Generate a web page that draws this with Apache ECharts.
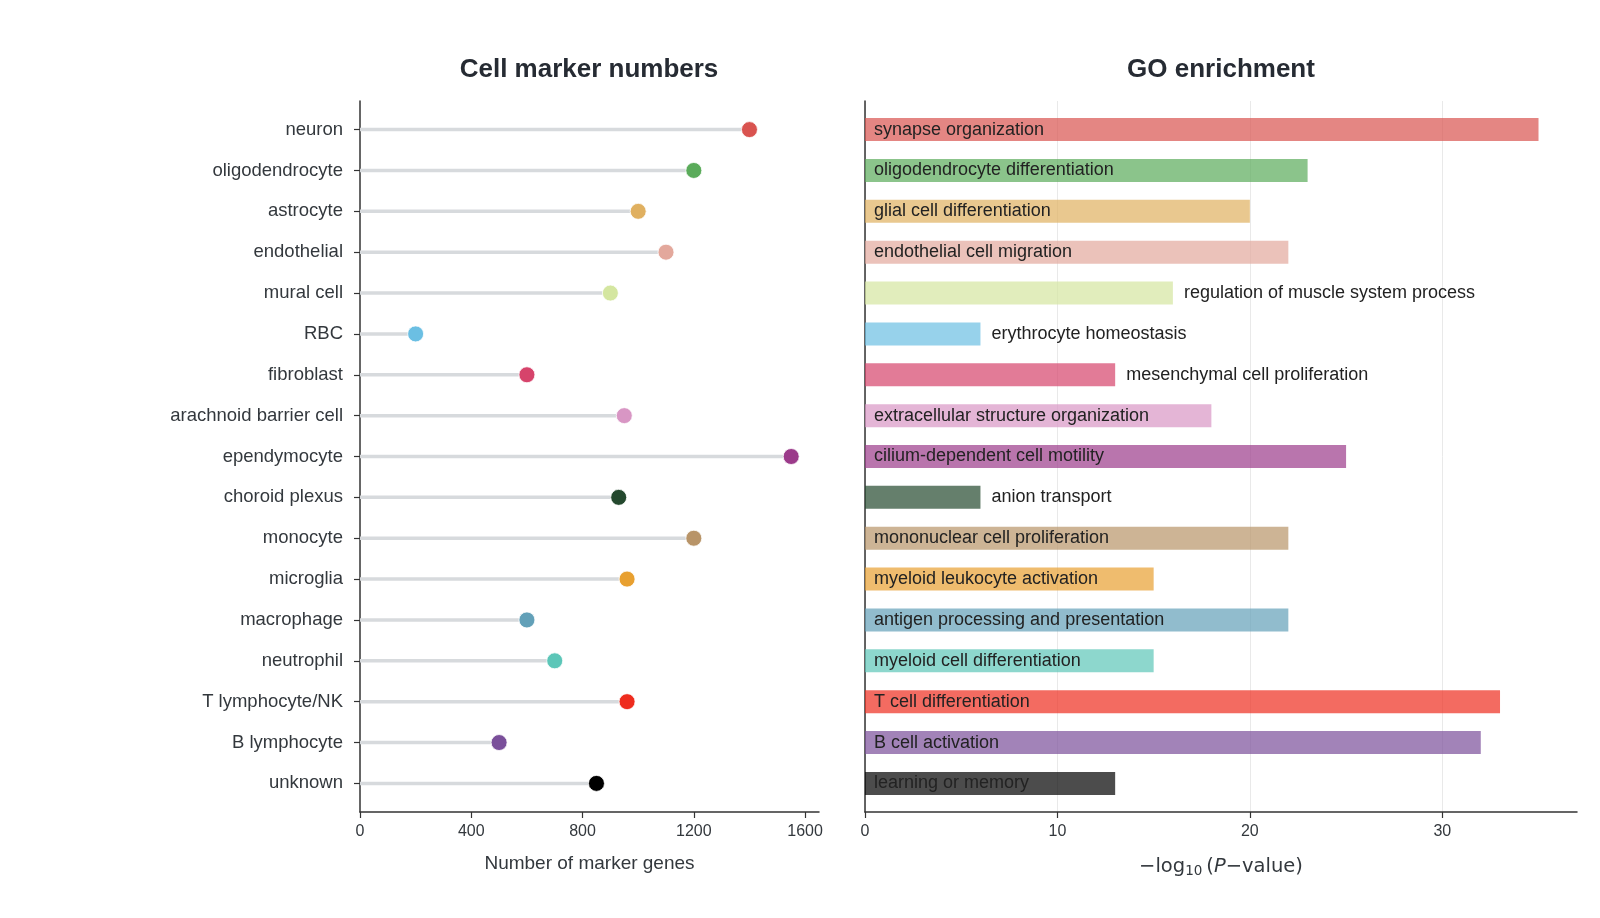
<!DOCTYPE html>
<html>
<head>
<meta charset="utf-8">
<script src="https://cdn.jsdelivr.net/npm/echarts@6/dist/echarts.min.js"></script>
<style>
  html, body { margin: 0; padding: 0; background: #fff; }
  #chart { width: 1600px; height: 918px; }
</style>
</head>
<body>
<div id="chart"></div>
<script>
// cell types, top to bottom
const cellTypes = [
  'neuron', 'oligodendrocyte', 'astrocyte', 'endothelial', 'mural cell', 'RBC',
  'fibroblast', 'arachnoid barrier cell', 'ependymocyte', 'choroid plexus',
  'monocyte', 'microglia', 'macrophage', 'neutrophil', 'T lymphocyte/NK',
  'B lymphocyte', 'unknown'
];
const markerCounts = [1400, 1200, 1000, 1100, 900, 200, 600, 950, 1550, 930, 1200, 960, 600, 700, 960, 500, 850];

const goTerms = [
  'synapse organization', 'oligodendrocyte differentiation', 'glial cell differentiation',
  'endothelial cell migration', 'regulation of muscle system process', 'erythrocyte homeostasis',
  'mesenchymal cell proliferation', 'extracellular structure organization',
  'cilium-dependent cell motility', 'anion transport', 'mononuclear cell proliferation',
  'myeloid leukocyte activation', 'antigen processing and presentation',
  'myeloid cell differentiation', 'T cell differentiation', 'B cell activation',
  'learning or memory'
];
const goScores = [35, 23, 20, 22, 16, 6, 13, 18, 25, 6, 22, 15, 22, 15, 33, 32, 13];

const cellColors = [
  '#d9534f', '#5aab5a', '#e0b060', '#e3a89c', '#d4e6a0', '#6bbfe3',
  '#d6436b', '#d896c4', '#9b3a8a', '#24492e', '#b89468', '#e8a030',
  '#62a0b8', '#5cc6b8', '#ee2c1e', '#7a4f9a', '#000000'
];

const countTicks = [0, 400, 800, 1200, 1600];
const scoreTicks = [0, 10, 20, 30];
const rowIdx = cellTypes.map((_, i) => i);

const FONT = '"Liberation Sans", Arial, Helvetica, sans-serif';
const TXT = '#33383d';
const AXIS = '#333333';

const measureCtx = document.createElement('canvas').getContext('2d');
measureCtx.font = '18px ' + FONT;

function renderStem(params, api) {
  const a = api.coord([0, api.value(1)]);
  const b = api.coord([api.value(0), api.value(1)]);
  return {
    type: 'line',
    shape: { x1: a[0], y1: a[1], x2: b[0], y2: b[1] },
    style: { stroke: '#d7dadd', lineWidth: 3.5 }
  };
}

function renderBar(params, api) {
  const i = api.value(1);
  const a = api.coord([0, i]);
  const b = api.coord([api.value(0), i]);
  const h = 23;
  const w = b[0] - a[0];
  const label = goTerms[i];
  const tw = measureCtx.measureText(label).width;
  const inside = tw + 24 < w;
  return {
    type: 'group',
    children: [
      {
        type: 'rect',
        shape: { x: a[0], y: a[1] - h / 2, width: w, height: h },
        style: { fill: cellColors[i], opacity: 0.7 }
      },
      {
        type: 'text',
        x: inside ? a[0] + 9 : b[0] + 11,
        y: a[1],
        style: {
          text: label, fill: '#222', fontSize: 18, fontFamily: FONT,
          align: 'left', verticalAlign: 'middle'
        }
      }
    ]
  };
}

const chart = echarts.init(document.getElementById('chart'), null, { renderer: 'canvas' });

chart.setOption({
  animation: false,
  backgroundColor: '#fff',
  textStyle: { fontFamily: FONT },
  title: [
    { text: 'Cell marker numbers', left: 584, top: 52, textAlign: 'center',
      textStyle: { fontSize: 26, fontWeight: 'bold', color: '#262b33', fontFamily: FONT } },
    { text: 'GO enrichment', left: 1216, top: 52, textAlign: 'center',
      textStyle: { fontSize: 26, fontWeight: 'bold', color: '#262b33', fontFamily: FONT } }
  ],
  grid: [
    { left: 360, top: 101, width: 459, height: 711 },
    { left: 865, top: 101, width: 712, height: 711 }
  ],
  xAxis: [
    {
      gridIndex: 0, type: 'value', min: 0, max: 1650,
      axisLine: { show: true, onZero: false, lineStyle: { color: AXIS, width: 1.5 } },
      axisTick: { show: true, length: 6, lineStyle: { color: AXIS, width: 1.2 }, customValues: countTicks },
      axisLabel: { fontSize: 16, color: TXT, margin: 12, customValues: countTicks,
        formatter: v => String(v) },
      splitLine: { show: false },
      name: 'Number of marker genes', nameLocation: 'middle', nameGap: 42,
      nameTextStyle: { fontSize: 19, color: TXT }
    },
    {
      gridIndex: 1, type: 'value', min: 0, max: 37,
      axisLine: { show: true, onZero: false, lineStyle: { color: AXIS, width: 1.5 } },
      axisTick: { show: true, length: 6, lineStyle: { color: AXIS, width: 1.2 }, customValues: scoreTicks },
      axisLabel: { fontSize: 16, color: TXT, margin: 12, customValues: scoreTicks,
        formatter: v => String(v) },
      splitLine: { show: true, lineStyle: { color: '#e9e9e9', width: 1 } },
      name: '{t|\u2212log}{s|10}{t|(}{i|P}{t|\u2212value)}',
      nameLocation: 'middle', nameGap: 43,
      nameTextStyle: {
        color: TXT,
        rich: {
          t: { fontFamily: 'DejaVu Sans', fontSize: 19.5, color: TXT },
          s: { fontFamily: 'DejaVu Sans', fontSize: 13.5, color: TXT, verticalAlign: 'bottom', padding: [9, 4, 0, 0] },
          i: { fontFamily: 'DejaVu Sans', fontStyle: 'italic', fontSize: 19.5, color: TXT }
        }
      }
    }
  ],
  yAxis: [
    {
      gridIndex: 0, type: 'value', min: -0.7, max: 16.7, inverse: true,
      axisLine: { show: true, onZero: false, lineStyle: { color: AXIS, width: 1.5 } },
      axisTick: { show: true, length: 6, lineStyle: { color: AXIS, width: 1.2 }, customValues: rowIdx },
      axisLabel: { fontSize: 18.5, color: TXT, margin: 17, customValues: rowIdx,
        formatter: v => cellTypes[Math.round(v)] },
      splitLine: { show: false }
    },
    {
      gridIndex: 1, type: 'value', min: -0.7, max: 16.7, inverse: true,
      axisLine: { show: true, onZero: false, lineStyle: { color: AXIS, width: 1.5 } },
      axisTick: { show: false },
      axisLabel: { show: false },
      splitLine: { show: false }
    }
  ],
  series: [
    {
      type: 'custom', xAxisIndex: 0, yAxisIndex: 0,
      renderItem: renderStem,
      data: markerCounts.map((v, i) => [v, i]),
      z: 1
    },
    {
      type: 'scatter', xAxisIndex: 0, yAxisIndex: 0,
      symbolSize: 16,
      data: markerCounts.map((v, i) => ({
        value: [v, i],
        itemStyle: { color: cellColors[i], opacity: 1, borderColor: '#fff', borderWidth: 0.8 }
      })),
      z: 3
    },
    {
      type: 'custom', xAxisIndex: 1, yAxisIndex: 1,
      renderItem: renderBar,
      data: goScores.map((v, i) => [v, i]),
      z: 2
    }
  ]
});
</script>
</body>
</html>
